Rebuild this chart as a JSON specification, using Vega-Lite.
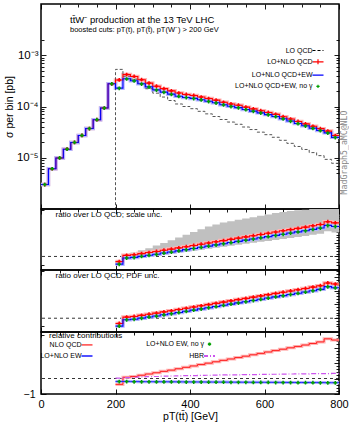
{
 "$schema": "https://vega.github.io/schema/vega-lite/v6.json",
 "padding": {"left": 3, "top": 2, "right": 0, "bottom": 0},
 "spacing": 0,
 "bounds": "flush",
 "config": {
  "font": "Liberation Sans",
  "view": {"stroke": "black", "strokeWidth": 1.5},
  "axis": {"domain": false, "grid": false, "tickColor": "black", "tickWidth": 0.9, "labelColor": "black", "labelFontSize": 10.5, "titleFontSize": 10.5, "titleFontWeight": "normal", "titleColor": "black", "labelFont": "Liberation Sans", "titleFont": "Liberation Sans", "labelOverlap": false},
  "title": {"fontWeight": "normal", "color": "black", "font": "Liberation Sans", "anchor": "start", "frame": "group"},
  "legend": {"labelFont": "Liberation Sans", "labelColor": "black", "titleFont": "Liberation Sans", "titleFontWeight": "normal", "titleColor": "black"}
 },
 "datasets": {
  "main": [
   {"lo":0,"hi":20,"mid":10,"lo_qcd":null,"nlo_qcd":3.0e-6,"nlo_ew":3.0e-6,"nlo_noa":3.0e-6},
   {"lo":20,"hi":40,"mid":30,"lo_qcd":null,"nlo_qcd":6.1e-6,"nlo_ew":6.1e-6,"nlo_noa":6.1e-6},
   {"lo":40,"hi":60,"mid":50,"lo_qcd":null,"nlo_qcd":9.9e-6,"nlo_ew":9.9e-6,"nlo_noa":9.9e-6},
   {"lo":60,"hi":80,"mid":70,"lo_qcd":null,"nlo_qcd":1.47e-5,"nlo_ew":1.47e-5,"nlo_noa":1.47e-5},
   {"lo":80,"hi":100,"mid":90,"lo_qcd":null,"nlo_qcd":1.99e-5,"nlo_ew":1.99e-5,"nlo_noa":1.99e-5},
   {"lo":100,"hi":120,"mid":110,"lo_qcd":null,"nlo_qcd":2.72e-5,"nlo_ew":2.72e-5,"nlo_noa":2.72e-5},
   {"lo":120,"hi":140,"mid":130,"lo_qcd":null,"nlo_qcd":3.71e-5,"nlo_ew":3.71e-5,"nlo_noa":3.71e-5},
   {"lo":140,"hi":160,"mid":150,"lo_qcd":null,"nlo_qcd":5.52e-5,"nlo_ew":5.52e-5,"nlo_noa":5.52e-5},
   {"lo":160,"hi":180,"mid":170,"lo_qcd":null,"nlo_qcd":9.33e-5,"nlo_ew":9.33e-5,"nlo_noa":9.33e-5},
   {"lo":180,"hi":200,"mid":190,"lo_qcd":1e-9,"nlo_qcd":2.77e-4,"nlo_ew":2.77e-4,"nlo_noa":2.77e-4},
   {"lo":200,"hi":220,"mid":210,"lo_qcd":5.30e-4,"nlo_qcd":3.29e-4,"nlo_ew":2.28e-4,"nlo_noa":2.26e-4},
   {"lo":220,"hi":240,"mid":230,"lo_qcd":3.90e-4,"nlo_qcd":4.21e-4,"nlo_ew":3.47e-4,"nlo_noa":3.44e-4},
   {"lo":240,"hi":260,"mid":250,"lo_qcd":3.42e-4,"nlo_qcd":3.86e-4,"nlo_ew":3.18e-4,"nlo_noa":3.15e-4},
   {"lo":260,"hi":280,"mid":270,"lo_qcd":2.75e-4,"nlo_qcd":3.33e-4,"nlo_ew":2.77e-4,"nlo_noa":2.74e-4},
   {"lo":280,"hi":300,"mid":290,"lo_qcd":2.22e-4,"nlo_qcd":2.86e-4,"nlo_ew":2.41e-4,"nlo_noa":2.39e-4},
   {"lo":300,"hi":320,"mid":310,"lo_qcd":1.82e-4,"nlo_qcd":2.49e-4,"nlo_ew":2.11e-4,"nlo_noa":2.09e-4},
   {"lo":320,"hi":340,"mid":330,"lo_qcd":1.53e-4,"nlo_qcd":2.23e-4,"nlo_ew":1.91e-4,"nlo_noa":1.89e-4},
   {"lo":340,"hi":360,"mid":350,"lo_qcd":1.31e-4,"nlo_qcd":2.02e-4,"nlo_ew":1.74e-4,"nlo_noa":1.72e-4},
   {"lo":360,"hi":380,"mid":370,"lo_qcd":1.12e-4,"nlo_qcd":1.83e-4,"nlo_ew":1.58e-4,"nlo_noa":1.57e-4},
   {"lo":380,"hi":400,"mid":390,"lo_qcd":1.00e-4,"nlo_qcd":1.72e-4,"nlo_ew":1.50e-4,"nlo_noa":1.49e-4},
   {"lo":400,"hi":420,"mid":410,"lo_qcd":9.06e-5,"nlo_qcd":1.64e-4,"nlo_ew":1.44e-4,"nlo_noa":1.43e-4},
   {"lo":420,"hi":440,"mid":430,"lo_qcd":8.05e-5,"nlo_qcd":1.53e-4,"nlo_ew":1.35e-4,"nlo_noa":1.34e-4},
   {"lo":440,"hi":460,"mid":450,"lo_qcd":7.18e-5,"nlo_qcd":1.43e-4,"nlo_ew":1.27e-4,"nlo_noa":1.25e-4},
   {"lo":460,"hi":480,"mid":470,"lo_qcd":6.38e-5,"nlo_qcd":1.33e-4,"nlo_ew":1.18e-4,"nlo_noa":1.17e-4},
   {"lo":480,"hi":500,"mid":490,"lo_qcd":5.58e-5,"nlo_qcd":1.21e-4,"nlo_ew":1.08e-4,"nlo_noa":1.07e-4},
   {"lo":500,"hi":520,"mid":510,"lo_qcd":4.97e-5,"nlo_qcd":1.12e-4,"nlo_ew":1.01e-4,"nlo_noa":9.97e-5},
   {"lo":520,"hi":540,"mid":530,"lo_qcd":4.50e-5,"nlo_qcd":1.06e-4,"nlo_ew":9.51e-5,"nlo_noa":9.42e-5},
   {"lo":540,"hi":560,"mid":550,"lo_qcd":3.98e-5,"nlo_qcd":9.71e-5,"nlo_ew":8.76e-5,"nlo_noa":8.67e-5},
   {"lo":560,"hi":580,"mid":570,"lo_qcd":3.55e-5,"nlo_qcd":8.98e-5,"nlo_ew":8.12e-5,"nlo_noa":8.04e-5},
   {"lo":580,"hi":600,"mid":590,"lo_qcd":3.16e-5,"nlo_qcd":8.28e-5,"nlo_ew":7.51e-5,"nlo_noa":7.43e-5},
   {"lo":600,"hi":620,"mid":610,"lo_qcd":2.82e-5,"nlo_qcd":7.64e-5,"nlo_ew":6.95e-5,"nlo_noa":6.88e-5},
   {"lo":620,"hi":640,"mid":630,"lo_qcd":2.51e-5,"nlo_qcd":7.03e-5,"nlo_ew":6.40e-5,"nlo_noa":6.34e-5},
   {"lo":640,"hi":660,"mid":650,"lo_qcd":2.19e-5,"nlo_qcd":6.33e-5,"nlo_ew":5.78e-5,"nlo_noa":5.72e-5},
   {"lo":660,"hi":680,"mid":670,"lo_qcd":1.91e-5,"nlo_qcd":5.69e-5,"nlo_ew":5.20e-5,"nlo_noa":5.15e-5},
   {"lo":680,"hi":700,"mid":690,"lo_qcd":1.66e-5,"nlo_qcd":5.10e-5,"nlo_ew":4.67e-5,"nlo_noa":4.62e-5},
   {"lo":700,"hi":720,"mid":710,"lo_qcd":1.45e-5,"nlo_qcd":4.58e-5,"nlo_ew":4.21e-5,"nlo_noa":4.16e-5},
   {"lo":720,"hi":740,"mid":730,"lo_qcd":1.26e-5,"nlo_qcd":4.11e-5,"nlo_ew":3.78e-5,"nlo_noa":3.74e-5},
   {"lo":740,"hi":760,"mid":750,"lo_qcd":1.10e-5,"nlo_qcd":3.70e-5,"nlo_ew":3.40e-5,"nlo_noa":3.37e-5},
   {"lo":760,"hi":780,"mid":770,"lo_qcd":9.3e-6,"nlo_qcd":3.31e-5,"nlo_ew":3.06e-5,"nlo_noa":3.03e-5},
   {"lo":780,"hi":800,"mid":790,"lo_qcd":7.8e-6,"nlo_qcd":2.71e-5,"nlo_ew":2.50e-5,"nlo_noa":2.48e-5}
  ],
  "ratio": [
   {"lo":200,"hi":220,"mid":210,"r_qcd":0.62,"r_ew":0.43,"r_noa":0.42,"s_lo":0.38,"s_hi":0.70,"c_qcd":-0.38,"c_ew":-0.19,"c_noa":-0.20,"c_hbr":0.03},
   {"lo":220,"hi":240,"mid":230,"r_qcd":1.08,"r_ew":0.89,"r_noa":0.88,"s_lo":0.86,"s_hi":1.15,"c_qcd":0.08,"c_ew":-0.19,"c_noa":-0.20,"c_hbr":0.06},
   {"lo":240,"hi":260,"mid":250,"r_qcd":1.13,"r_ew":0.93,"r_noa":0.92,"s_lo":0.885,"s_hi":1.30,"c_qcd":0.13,"c_ew":-0.200,"c_noa":-0.210,"c_hbr":0.08},
   {"lo":260,"hi":280,"mid":270,"r_qcd":1.21,"r_ew":1.007,"r_noa":0.997,"s_lo":0.947,"s_hi":1.45,"c_qcd":0.21,"c_ew":-0.203,"c_noa":-0.213,"c_hbr":0.10},
   {"lo":280,"hi":300,"mid":290,"r_qcd":1.29,"r_ew":1.085,"r_noa":1.075,"s_lo":1.01,"s_hi":1.60,"c_qcd":0.29,"c_ew":-0.205,"c_noa":-0.215,"c_hbr":0.12},
   {"lo":300,"hi":320,"mid":310,"r_qcd":1.37,"r_ew":1.162,"r_noa":1.152,"s_lo":1.072,"s_hi":1.80,"c_qcd":0.37,"c_ew":-0.208,"c_noa":-0.218,"c_hbr":0.13},
   {"lo":320,"hi":340,"mid":330,"r_qcd":1.46,"r_ew":1.25,"r_noa":1.24,"s_lo":1.145,"s_hi":2.00,"c_qcd":0.46,"c_ew":-0.210,"c_noa":-0.220,"c_hbr":0.15},
   {"lo":340,"hi":360,"mid":350,"r_qcd":1.54,"r_ew":1.327,"r_noa":1.317,"s_lo":1.207,"s_hi":2.20,"c_qcd":0.54,"c_ew":-0.213,"c_noa":-0.223,"c_hbr":0.16},
   {"lo":360,"hi":380,"mid":370,"r_qcd":1.63,"r_ew":1.414,"r_noa":1.404,"s_lo":1.279,"s_hi":2.40,"c_qcd":0.63,"c_ew":-0.216,"c_noa":-0.226,"c_hbr":0.17},
   {"lo":380,"hi":400,"mid":390,"r_qcd":1.72,"r_ew":1.502,"r_noa":1.492,"s_lo":1.352,"s_hi":2.60,"c_qcd":0.72,"c_ew":-0.218,"c_noa":-0.228,"c_hbr":0.18},
   {"lo":400,"hi":420,"mid":410,"r_qcd":1.81,"r_ew":1.589,"r_noa":1.579,"s_lo":1.424,"s_hi":2.80,"c_qcd":0.81,"c_ew":-0.221,"c_noa":-0.231,"c_hbr":0.19},
   {"lo":420,"hi":440,"mid":430,"r_qcd":1.90,"r_ew":1.677,"r_noa":1.667,"s_lo":1.497,"s_hi":3.00,"c_qcd":0.90,"c_ew":-0.223,"c_noa":-0.233,"c_hbr":0.20},
   {"lo":440,"hi":460,"mid":450,"r_qcd":1.99,"r_ew":1.764,"r_noa":1.754,"s_lo":1.569,"s_hi":3.20,"c_qcd":0.99,"c_ew":-0.226,"c_noa":-0.236,"c_hbr":0.21},
   {"lo":460,"hi":480,"mid":470,"r_qcd":2.08,"r_ew":1.851,"r_noa":1.841,"s_lo":1.641,"s_hi":3.35,"c_qcd":1.08,"c_ew":-0.229,"c_noa":-0.239,"c_hbr":0.22},
   {"lo":480,"hi":500,"mid":490,"r_qcd":2.17,"r_ew":1.939,"r_noa":1.929,"s_lo":1.714,"s_hi":3.50,"c_qcd":1.17,"c_ew":-0.231,"c_noa":-0.241,"c_hbr":0.23},
   {"lo":500,"hi":520,"mid":510,"r_qcd":2.26,"r_ew":2.026,"r_noa":2.016,"s_lo":1.786,"s_hi":3.60,"c_qcd":1.26,"c_ew":-0.234,"c_noa":-0.244,"c_hbr":0.235},
   {"lo":520,"hi":540,"mid":530,"r_qcd":2.35,"r_ew":2.114,"r_noa":2.104,"s_lo":1.859,"s_hi":3.70,"c_qcd":1.35,"c_ew":-0.236,"c_noa":-0.246,"c_hbr":0.24},
   {"lo":540,"hi":560,"mid":550,"r_qcd":2.44,"r_ew":2.201,"r_noa":2.191,"s_lo":1.931,"s_hi":3.80,"c_qcd":1.44,"c_ew":-0.239,"c_noa":-0.249,"c_hbr":0.25},
   {"lo":560,"hi":580,"mid":570,"r_qcd":2.53,"r_ew":2.288,"r_noa":2.278,"s_lo":2.003,"s_hi":3.90,"c_qcd":1.53,"c_ew":-0.242,"c_noa":-0.252,"c_hbr":0.255},
   {"lo":580,"hi":600,"mid":590,"r_qcd":2.62,"r_ew":2.376,"r_noa":2.366,"s_lo":2.076,"s_hi":4.00,"c_qcd":1.62,"c_ew":-0.244,"c_noa":-0.254,"c_hbr":0.26},
   {"lo":600,"hi":620,"mid":610,"r_qcd":2.71,"r_ew":2.463,"r_noa":2.453,"s_lo":2.148,"s_hi":4.10,"c_qcd":1.71,"c_ew":-0.247,"c_noa":-0.257,"c_hbr":0.27},
   {"lo":620,"hi":640,"mid":630,"r_qcd":2.80,"r_ew":2.551,"r_noa":2.541,"s_lo":2.221,"s_hi":4.20,"c_qcd":1.80,"c_ew":-0.249,"c_noa":-0.259,"c_hbr":0.275},
   {"lo":640,"hi":660,"mid":650,"r_qcd":2.89,"r_ew":2.638,"r_noa":2.628,"s_lo":2.293,"s_hi":4.28,"c_qcd":1.89,"c_ew":-0.252,"c_noa":-0.262,"c_hbr":0.28},
   {"lo":660,"hi":680,"mid":670,"r_qcd":2.98,"r_ew":2.725,"r_noa":2.715,"s_lo":2.365,"s_hi":4.35,"c_qcd":1.98,"c_ew":-0.255,"c_noa":-0.265,"c_hbr":0.29},
   {"lo":680,"hi":700,"mid":690,"r_qcd":3.07,"r_ew":2.813,"r_noa":2.803,"s_lo":2.438,"s_hi":4.40,"c_qcd":2.07,"c_ew":-0.257,"c_noa":-0.267,"c_hbr":0.295},
   {"lo":700,"hi":720,"mid":710,"r_qcd":3.16,"r_ew":2.900,"r_noa":2.890,"s_lo":2.510,"s_hi":4.45,"c_qcd":2.16,"c_ew":-0.260,"c_noa":-0.270,"c_hbr":0.30},
   {"lo":720,"hi":740,"mid":730,"r_qcd":3.26,"r_ew":2.998,"r_noa":2.988,"s_lo":2.593,"s_hi":4.50,"c_qcd":2.26,"c_ew":-0.262,"c_noa":-0.272,"c_hbr":0.31},
   {"lo":740,"hi":760,"mid":750,"r_qcd":3.36,"r_ew":3.095,"r_noa":3.085,"s_lo":2.675,"s_hi":4.55,"c_qcd":2.36,"c_ew":-0.265,"c_noa":-0.275,"c_hbr":0.315},
   {"lo":760,"hi":780,"mid":770,"r_qcd":3.56,"r_ew":3.292,"r_noa":3.282,"s_lo":2.857,"s_hi":4.60,"c_qcd":2.56,"c_ew":-0.268,"c_noa":-0.278,"c_hbr":0.32},
   {"lo":780,"hi":800,"mid":790,"r_qcd":3.48,"r_ew":3.210,"r_noa":3.200,"s_lo":2.760,"s_hi":4.65,"c_qcd":2.48,"c_ew":-0.270,"c_noa":-0.280,"c_hbr":0.33}
  ]
 },
 "resolve": {
  "scale": {"x": "independent", "y": "independent", "color": "independent", "shape": "independent", "strokeDash": "independent"},
  "legend": {"color": "independent", "shape": "independent", "strokeDash": "independent"}
 },
 "vconcat": [
  {
   "width": 298, "height": 205,
   "title": {"text": "tt̄W⁻ production at the 13 TeV LHC", "subtitle": "boosted cuts: pT(t), pT(t̄), pT(W⁻) > 200 GeV", "fontSize": 9.5, "subtitleFontSize": 7.5, "subtitleColor": "black", "subtitleFont": "Liberation Sans", "subtitlePadding": 2, "offset": -30, "dx": 29},
   "resolve": {"axis": {"x": "independent", "y": "independent"}},
   "layer": [
    {
     "data": {"name": "main"},
     "layer": [
      {"transform": [{"fold": ["lo", "hi"], "as": ["edge", "x"]}],
       "mark": {"type": "line", "color": "#ffb4b4", "strokeWidth": 3.5, "clip": true},
       "encoding": {
        "x": {"field": "x", "type": "quantitative", "scale": {"domain": [0, 800]},
              "axis": {"orient": "bottom", "values": [0,50,100,150,200,250,300,350,400,450,500,550,600,650,700,750,800], "labels": false, "title": null, "tickSize": {"condition": {"test": "datum.value % 200 === 0", "value": -5}, "value": -3}}},
        "y": {"field": "nlo_qcd", "type": "quantitative", "scale": {"type": "log", "domain": [5e-6, 2e-3]},
              "axis": {"orient": "left", "values": [5e-6,6e-6,7e-6,8e-6,9e-6,1e-5,2e-5,3e-5,4e-5,5e-5,6e-5,7e-5,8e-5,9e-5,1e-4,2e-4,3e-4,4e-4,5e-4,6e-4,7e-4,8e-4,9e-4,1e-3,2e-3],
                       "labelExpr": "datum.value === 0.001 ? '10⁻³' : datum.value === 0.0001 ? '10⁻⁴' : datum.value === 0.00001 ? '10⁻⁵' : ''",
                       "labelFontSize": 11.5,
                       "tickSize": {"condition": {"test": "datum.value === 0.001 || datum.value === 0.0001 || datum.value === 0.00001", "value": -5}, "value": -3},
                       "labelPadding": 8, "title": "σ per bin [pb]", "titlePadding": 2}}
       }},
      {"transform": [{"fold": ["lo", "hi"], "as": ["edge", "x"]}],
       "mark": {"type": "line", "color": "#b4b4ff", "strokeWidth": 3.5, "clip": true},
       "encoding": {"x": {"field": "x", "type": "quantitative"}, "y": {"field": "nlo_ew", "type": "quantitative"}}},
      {"transform": [{"fold": ["lo", "hi"], "as": ["edge", "x"]}],
       "mark": {"type": "line", "color": "#555555", "strokeWidth": 1, "strokeDash": [3, 2], "clip": true},
       "encoding": {"x": {"field": "x", "type": "quantitative"}, "y": {"field": "lo_qcd", "type": "quantitative"}}},
      {"transform": [{"fold": ["lo", "hi"], "as": ["edge", "x"]}],
       "mark": {"type": "line", "color": "#ff0000", "strokeWidth": 1.1, "clip": true},
       "encoding": {"x": {"field": "x", "type": "quantitative"}, "y": {"field": "nlo_qcd", "type": "quantitative"}}},
      {"transform": [{"fold": ["lo", "hi"], "as": ["edge", "x"]}],
       "mark": {"type": "line", "color": "#0000ff", "strokeWidth": 1.1, "clip": true},
       "encoding": {"x": {"field": "x", "type": "quantitative"}, "y": {"field": "nlo_ew", "type": "quantitative"}}},
      {"mark": {"type": "point", "shape": "cross", "filled": true, "size": 14, "color": "#ff0000", "opacity": 1, "clip": true},
       "encoding": {"x": {"field": "mid", "type": "quantitative"}, "y": {"field": "nlo_qcd", "type": "quantitative"}}},
      {"mark": {"type": "point", "shape": "cross", "filled": true, "size": 14, "color": "#00a000", "opacity": 1, "clip": true},
       "encoding": {"x": {"field": "mid", "type": "quantitative"}, "y": {"field": "nlo_noa", "type": "quantitative"}}}
     ]
    },
    {
     "data": {"name": "main"},
     "mark": {"type": "point", "opacity": 0},
     "encoding": {
      "x": {"field": "mid", "type": "quantitative", "axis": {"orient": "top", "values": [0,50,100,150,200,250,300,350,400,450,500,550,600,650,700,750,800], "labels": false, "title": null, "tickSize": {"condition": {"test": "datum.value % 200 === 0", "value": -5}, "value": -3}}},
      "y": {"field": "nlo_qcd", "type": "quantitative", "axis": {"orient": "right", "values": [5e-6,6e-6,7e-6,8e-6,9e-6,1e-5,2e-5,3e-5,4e-5,5e-5,6e-5,7e-5,8e-5,9e-5,1e-4,2e-4,3e-4,4e-4,5e-4,6e-4,7e-4,8e-4,9e-4,1e-3,2e-3], "labels": false,
            "tickSize": {"condition": {"test": "datum.value === 0.001 || datum.value === 0.0001 || datum.value === 0.00001", "value": -5}, "value": -3},
            "title": "MadGraph5_aMC@NLO", "titleColor": "#888888", "titleFont": "DejaVu Sans Mono", "titleFontSize": 8.2, "titleAngle": 270, "titleBaseline": "middle", "titleY": 148, "titlePadding": 5}}
     }
    },
    {
     "data": {"values": [{"series": "LO QCD"}, {"series": "LO+NLO QCD"}, {"series": "LO+NLO QCD+EW"}, {"series": "LO+NLO QCD+EW, no γ"}]},
     "mark": {"type": "point", "opacity": 0, "filled": false, "strokeWidth": 1.2},
     "encoding": {
      "color": {"field": "series", "type": "nominal",
                "scale": {"domain": ["LO QCD", "LO+NLO QCD", "LO+NLO QCD+EW", "LO+NLO QCD+EW, no γ"], "range": ["#000000", "#ff0000", "#0000ff", "#00a000"]},
                "legend": {"orient": "none", "legendX": 265, "legendY": 40, "title": null, "labelAlign": "right", "labelOffset": -12, "symbolOffset": 5.5, "labelFontSize": 7, "symbolSize": 121, "symbolStrokeWidth": 1.2, "rowPadding": 1.3, "labelLimit": 300}},
      "shape": {"field": "series", "type": "nominal",
                "scale": {"domain": ["LO QCD", "LO+NLO QCD", "LO+NLO QCD+EW", "LO+NLO QCD+EW, no γ"], "range": ["M-1,0H1", "M-1,0H1M0,-0.45V0.45", "M-1,0H1", "M-0.3,0H0.3M0,-0.3V0.3"]}},
      "strokeDash": {"field": "series", "type": "nominal",
                "scale": {"domain": ["LO QCD", "LO+NLO QCD", "LO+NLO QCD+EW", "LO+NLO QCD+EW, no γ"], "range": [[3, 2], [1, 0], [1, 0], [1, 0]]}}
     }
    }
   ]
  },
  {
   "width": 298, "height": 61,
   "title": {"text": "ratio over LO QCD; scale unc.", "fontSize": 8, "offset": -13.5, "dx": 14.5},
   "resolve": {"axis": {"x": "independent", "y": "independent"}},
   "layer": [
    {
     "data": {"name": "ratio"},
     "layer": [
      {"transform": [{"fold": ["lo", "hi"], "as": ["edge", "x"]}],
       "mark": {"type": "area", "color": "#c0c0c0", "clip": true},
       "encoding": {
        "x": {"field": "x", "type": "quantitative", "scale": {"domain": [0, 800]},
              "axis": {"orient": "bottom", "values": [0,50,100,150,200,250,300,350,400,450,500,550,600,650,700,750,800], "labels": false, "title": null, "tickSize": {"condition": {"test": "datum.value % 200 === 0", "value": -5}, "value": -3}}},
        "y": {"field": "s_lo", "type": "quantitative", "scale": {"domain": [0.3, 4.45]},
              "axis": {"orient": "left", "values": [0.4,0.6,0.8,1,1.2,1.4,1.6,1.8,2,2.2,2.4,2.6,2.8,3,3.2,3.4,3.6,3.8,4,4.2,4.4], "labelExpr": "datum.value % 1 === 0 ? datum.label : ''", "tickSize": {"condition": {"test": "datum.value % 1 === 0", "value": -5}, "value": -3}, "labelPadding": 11, "title": null}},
        "y2": {"field": "s_hi"}
       }},
      {"data": {"values": [{}]}, "mark": {"type": "rule", "color": "black", "strokeWidth": 0.8, "strokeDash": [3, 3]}, "encoding": {"y": {"datum": 1}}},
      {"transform": [{"fold": ["lo", "hi"], "as": ["edge", "x"]}],
       "mark": {"type": "line", "color": "#ffb4b4", "strokeWidth": 3.5, "clip": true},
       "encoding": {"x": {"field": "x", "type": "quantitative"}, "y": {"field": "r_qcd", "type": "quantitative"}}},
      {"transform": [{"fold": ["lo", "hi"], "as": ["edge", "x"]}],
       "mark": {"type": "line", "color": "#b4b4ff", "strokeWidth": 3.5, "clip": true},
       "encoding": {"x": {"field": "x", "type": "quantitative"}, "y": {"field": "r_ew", "type": "quantitative"}}},
      {"transform": [{"fold": ["lo", "hi"], "as": ["edge", "x"]}],
       "mark": {"type": "line", "color": "#ff0000", "strokeWidth": 1.1, "clip": true},
       "encoding": {"x": {"field": "x", "type": "quantitative"}, "y": {"field": "r_qcd", "type": "quantitative"}}},
      {"transform": [{"fold": ["lo", "hi"], "as": ["edge", "x"]}],
       "mark": {"type": "line", "color": "#0000ff", "strokeWidth": 1.1, "clip": true},
       "encoding": {"x": {"field": "x", "type": "quantitative"}, "y": {"field": "r_ew", "type": "quantitative"}}},
      {"mark": {"type": "point", "shape": "cross", "filled": true, "size": 14, "color": "#ff0000", "opacity": 1, "clip": true},
       "encoding": {"x": {"field": "mid", "type": "quantitative"}, "y": {"field": "r_qcd", "type": "quantitative"}}},
      {"mark": {"type": "point", "shape": "cross", "filled": true, "size": 14, "color": "#00a000", "opacity": 1, "clip": true},
       "encoding": {"x": {"field": "mid", "type": "quantitative"}, "y": {"field": "r_noa", "type": "quantitative"}}}
     ]
    },
    {
     "data": {"name": "ratio"},
     "mark": {"type": "point", "opacity": 0},
     "encoding": {
      "x": {"field": "mid", "type": "quantitative", "axis": {"orient": "top", "values": [0,50,100,150,200,250,300,350,400,450,500,550,600,650,700,750,800], "labels": false, "title": null, "tickSize": {"condition": {"test": "datum.value % 200 === 0", "value": -5}, "value": -3}}},
      "y": {"field": "r_qcd", "type": "quantitative", "axis": {"orient": "right", "values": [0.4,0.6,0.8,1,1.2,1.4,1.6,1.8,2,2.2,2.4,2.6,2.8,3,3.2,3.4,3.6,3.8,4,4.2,4.4], "labels": false, "title": null, "tickSize": {"condition": {"test": "datum.value % 1 === 0", "value": -5}, "value": -3}}}
     }
    }
   ]
  },
  {
   "width": 298, "height": 62,
   "title": {"text": "ratio over LO QCD; PDF unc.", "fontSize": 8, "offset": -13.5, "dx": 14.5},
   "resolve": {"axis": {"x": "independent", "y": "independent"}},
   "layer": [
    {
     "data": {"name": "ratio"},
     "layer": [
      {"data": {"values": [{}]}, "mark": {"type": "rule", "color": "black", "strokeWidth": 0.8, "strokeDash": [3, 3]}, "encoding": {"y": {"datum": 1, "type": "quantitative", "scale": {"domain": [0.3, 4.45]},
              "axis": {"orient": "left", "values": [0.4,0.6,0.8,1,1.2,1.4,1.6,1.8,2,2.2,2.4,2.6,2.8,3,3.2,3.4,3.6,3.8,4,4.2,4.4], "labelExpr": "datum.value % 1 === 0 ? datum.label : ''", "tickSize": {"condition": {"test": "datum.value % 1 === 0", "value": -5}, "value": -3}, "labelPadding": 11, "title": null}}}},
      {"transform": [{"fold": ["lo", "hi"], "as": ["edge", "x"]}],
       "mark": {"type": "line", "color": "#ffb4b4", "strokeWidth": 3.5, "clip": true},
       "encoding": {
        "x": {"field": "x", "type": "quantitative", "scale": {"domain": [0, 800]},
              "axis": {"orient": "bottom", "values": [0,50,100,150,200,250,300,350,400,450,500,550,600,650,700,750,800], "labels": false, "title": null, "tickSize": {"condition": {"test": "datum.value % 200 === 0", "value": -5}, "value": -3}}},
        "y": {"field": "r_qcd", "type": "quantitative"}}},
      {"transform": [{"fold": ["lo", "hi"], "as": ["edge", "x"]}],
       "mark": {"type": "line", "color": "#b4b4ff", "strokeWidth": 3.5, "clip": true},
       "encoding": {"x": {"field": "x", "type": "quantitative"}, "y": {"field": "r_ew", "type": "quantitative"}}},
      {"transform": [{"fold": ["lo", "hi"], "as": ["edge", "x"]}],
       "mark": {"type": "line", "color": "#ff0000", "strokeWidth": 1.1, "clip": true},
       "encoding": {"x": {"field": "x", "type": "quantitative"}, "y": {"field": "r_qcd", "type": "quantitative"}}},
      {"transform": [{"fold": ["lo", "hi"], "as": ["edge", "x"]}],
       "mark": {"type": "line", "color": "#0000ff", "strokeWidth": 1.1, "clip": true},
       "encoding": {"x": {"field": "x", "type": "quantitative"}, "y": {"field": "r_ew", "type": "quantitative"}}},
      {"mark": {"type": "point", "shape": "cross", "filled": true, "size": 14, "color": "#ff0000", "opacity": 1, "clip": true},
       "encoding": {"x": {"field": "mid", "type": "quantitative"}, "y": {"field": "r_qcd", "type": "quantitative"}}},
      {"mark": {"type": "point", "shape": "cross", "filled": true, "size": 14, "color": "#00a000", "opacity": 1, "clip": true},
       "encoding": {"x": {"field": "mid", "type": "quantitative"}, "y": {"field": "r_noa", "type": "quantitative"}}}
     ]
    },
    {
     "data": {"name": "ratio"},
     "mark": {"type": "point", "opacity": 0},
     "encoding": {
      "x": {"field": "mid", "type": "quantitative", "axis": {"orient": "top", "values": [0,50,100,150,200,250,300,350,400,450,500,550,600,650,700,750,800], "labels": false, "title": null, "tickSize": {"condition": {"test": "datum.value % 200 === 0", "value": -5}, "value": -3}}},
      "y": {"field": "r_qcd", "type": "quantitative", "axis": {"orient": "right", "values": [0.4,0.6,0.8,1,1.2,1.4,1.6,1.8,2,2.2,2.4,2.6,2.8,3,3.2,3.4,3.6,3.8,4,4.2,4.4], "labels": false, "title": null, "tickSize": {"condition": {"test": "datum.value % 1 === 0", "value": -5}, "value": -3}}}
     }
    }
   ]
  },
  {
   "width": 298, "height": 62,
   "title": {"text": "relative contributions", "fontSize": 8, "offset": -10, "dx": 8},
   "resolve": {"axis": {"x": "independent", "y": "independent"}},
   "layer": [
    {
     "data": {"name": "ratio"},
     "layer": [
      {"data": {"values": [{}]}, "mark": {"type": "rule", "color": "black", "strokeWidth": 0.8, "strokeDash": [3, 3]}, "encoding": {"y": {"datum": 0, "type": "quantitative", "scale": {"domain": [-1, 3]},
              "axis": {"orient": "left", "values": [-1,-0.8,-0.6,-0.4,-0.2,0,0.2,0.4,0.6,0.8,1,1.2,1.4,1.6,1.8,2,2.2,2.4,2.6,2.8], "labelExpr": "datum.value % 1 === 0 ? datum.label : ''", "tickSize": {"condition": {"test": "datum.value % 1 === 0", "value": -5}, "value": -3}, "labelPadding": 11, "title": null}}}},
      {"transform": [{"fold": ["lo", "hi"], "as": ["edge", "x"]}],
       "mark": {"type": "line", "color": "#ffb4b4", "strokeWidth": 3, "clip": true},
       "encoding": {
        "x": {"field": "x", "type": "quantitative", "scale": {"domain": [0, 800]},
              "axis": {"orient": "bottom", "values": [0,50,100,150,200,250,300,350,400,450,500,550,600,650,700,750,800], "labelExpr": "datum.value % 200 === 0 ? datum.label : ''", "labelFontSize": 11, "labelFlush": false, "labelPadding": 9, "title": "pT(tt̄) [GeV]", "titlePadding": 2, "tickSize": {"condition": {"test": "datum.value % 200 === 0", "value": -5}, "value": -3}}},
        "y": {"field": "c_qcd", "type": "quantitative"}}},
      {"transform": [{"fold": ["lo", "hi"], "as": ["edge", "x"]}],
       "mark": {"type": "line", "color": "#b4b4ff", "strokeWidth": 3, "clip": true},
       "encoding": {"x": {"field": "x", "type": "quantitative"}, "y": {"field": "c_ew", "type": "quantitative"}}},
      {"transform": [{"fold": ["lo", "hi"], "as": ["edge", "x"]}],
       "mark": {"type": "line", "color": "#ff2020", "strokeWidth": 1, "clip": true},
       "encoding": {"x": {"field": "x", "type": "quantitative"}, "y": {"field": "c_qcd", "type": "quantitative"}}},
      {"transform": [{"fold": ["lo", "hi"], "as": ["edge", "x"]}],
       "mark": {"type": "line", "color": "#2020ff", "strokeWidth": 1, "clip": true},
       "encoding": {"x": {"field": "x", "type": "quantitative"}, "y": {"field": "c_ew", "type": "quantitative"}}},
      {"transform": [{"fold": ["lo", "hi"], "as": ["edge", "x"]}],
       "mark": {"type": "line", "color": "#cc55ee", "strokeWidth": 1.2, "strokeDash": [5, 2, 1, 2], "clip": true},
       "encoding": {"x": {"field": "x", "type": "quantitative"}, "y": {"field": "c_hbr", "type": "quantitative"}}},
      {"mark": {"type": "point", "shape": "cross", "filled": true, "size": 14, "color": "#00a000", "opacity": 1, "clip": true},
       "encoding": {"x": {"field": "mid", "type": "quantitative"}, "y": {"field": "c_noa", "type": "quantitative"}}}
     ]
    },
    {
     "data": {"name": "ratio"},
     "mark": {"type": "point", "opacity": 0},
     "encoding": {
      "x": {"field": "mid", "type": "quantitative", "axis": {"orient": "top", "values": [0,50,100,150,200,250,300,350,400,450,500,550,600,650,700,750,800], "labels": false, "title": null, "tickSize": {"condition": {"test": "datum.value % 200 === 0", "value": -5}, "value": -3}}},
      "y": {"field": "c_qcd", "type": "quantitative", "axis": {"orient": "right", "values": [-1,-0.8,-0.6,-0.4,-0.2,0,0.2,0.4,0.6,0.8,1,1.2,1.4,1.6,1.8,2,2.2,2.4,2.6,2.8], "labels": false, "title": null, "tickSize": {"condition": {"test": "datum.value % 1 === 0", "value": -5}, "value": -3}}}
     }
    },
    {
     "data": {"values": [{"contrib": "NLO QCD"}, {"contrib": "LO+NLO EW"}, {"contrib": "LO+NLO EW, no γ"}, {"contrib": "HBR"}]},
     "mark": {"type": "point", "opacity": 0, "filled": false, "strokeWidth": 1.5},
     "encoding": {
      "color": {"field": "contrib", "type": "nominal",
                "scale": {"domain": ["NLO QCD", "LO+NLO EW", "LO+NLO EW, no γ", "HBR"], "range": ["#ff6060", "#5050ff", "#00a000", "#cc55ee"]},
                "legend": {"orient": "none", "legendX": 33, "legendY": 5.5, "title": null, "columns": 2, "columnPadding": 48.5, "labelAlign": "right", "labelOffset": -12, "symbolOffset": 6.5, "labelFontSize": 7, "symbolSize": 121, "symbolStrokeWidth": 1.8, "rowPadding": -4, "labelLimit": 300}},
      "shape": {"field": "contrib", "type": "nominal",
                "scale": {"domain": ["NLO QCD", "LO+NLO EW", "LO+NLO EW, no γ", "HBR"], "range": ["M-1,0H1", "M-1,0H1", "M-0.3,0H0.3M0,-0.3V0.3", "M-1,0H1"]}},
      "strokeDash": {"field": "contrib", "type": "nominal",
                "scale": {"domain": ["NLO QCD", "LO+NLO EW", "LO+NLO EW, no γ", "HBR"], "range": [[1, 0], [1, 0], [1, 0], [4, 2, 1, 2]]}}
     }
    }
   ]
  }
 ]
}
